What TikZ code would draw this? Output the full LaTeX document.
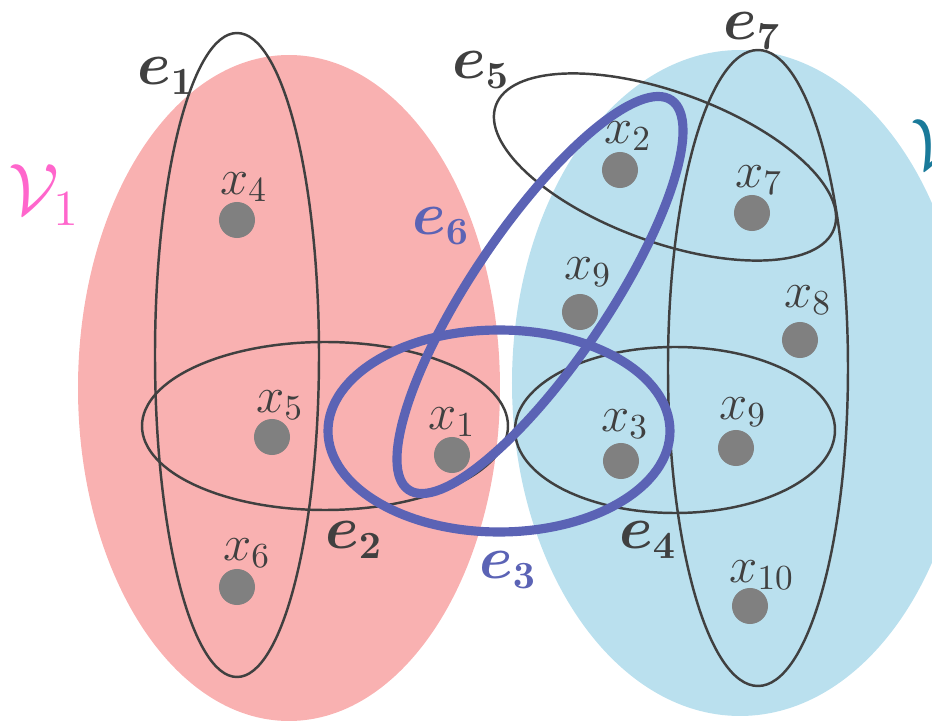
\documentclass[tikz,border=0pt]{standalone}
\usepackage{amsmath}
\usepackage{tikz}

\definecolor{partred}{HTML}{F9B1B1}
\definecolor{partblue}{HTML}{BAE0EE}
\definecolor{edgegray}{HTML}{404040}
\definecolor{heavyblue}{HTML}{5B63B5}
\definecolor{vmagenta}{HTML}{FF66CC}
\definecolor{vteal}{HTML}{1A7A9A}

\begin{document}
\begin{tikzpicture}[x=0.01cm, y=-0.01cm,
  vertex/.style={circle, fill=black!50, minimum size=0.36cm, inner sep=0pt},
  vlabel/.style={text=edgegray, font=\fontsize{14}{16}\selectfont, inner sep=0pt},
  hedge/.style={draw=edgegray, line width=0.7pt},
  heavy/.style={draw=heavyblue, line width=2.6pt},
  elabel/.style={font=\fontsize{16}{18}\selectfont, inner sep=0pt},
  part/.style={font=\fontsize{21}{24}\selectfont, inner sep=0pt}]

  \clip (0,0) rectangle (932,721);

  % Partitions
  \fill[partred] (289,388) ellipse (211 and 333);
  \fill[partblue] (740,383) ellipse (228 and 333);
  \node[part, text=vmagenta] (v1) at (44,195) {$\mathcal{V}_1$};
  \node[part, text=vteal, anchor=west] (v2) at (910,150) {$\mathcal{V}_2$};

  % Hyperedges
  \draw[hedge] (237,355) ellipse (82 and 322);
  \draw[hedge] (325,426) ellipse (183 and 84);
  \draw[hedge] (675,430) ellipse (160 and 83);
  \draw[hedge] (758,368) ellipse (90 and 318);
  \draw[hedge, rotate around={-20:(665,167)}] (665,167) ellipse (180 and 75);
  \draw[heavy] (499,431) ellipse (171 and 101);
  \draw[heavy, rotate around={56:(540,295)}] (540,295) ellipse (235 and 68);

  % Hyperedge labels
  \node[elabel, text=edgegray] (l1) at (166,76) {$\boldsymbol{e_1}$};
  \node[elabel, text=edgegray] (l2) at (354,540) {$\boldsymbol{e_2}$};
  \node[elabel, text=heavyblue] (l3) at (508,570) {$\boldsymbol{e_3}$};
  \node[elabel, text=edgegray] (l4) at (648,540) {$\boldsymbol{e_4}$};
  \node[elabel, text=edgegray] (l5) at (481,70) {$\boldsymbol{e_5}$};
  \node[elabel, text=heavyblue] (l6) at (441,226) {$\boldsymbol{e_6}$};
  \node[elabel, text=edgegray] (l7) at (752,31) {$\boldsymbol{e_7}$};

  % Vertices
  \node[vertex] (x4) at (237,220) {};
  \node[vertex] (x5) at (272,437) {};
  \node[vertex] (x6) at (237,587) {};
  \node[vertex] (x1) at (452,455) {};
  \node[vertex] (x2) at (620,170) {};
  \node[vertex] (x7) at (752,213) {};
  \node[vertex] (x9a) at (580,312) {};
  \node[vertex] (x8) at (800,340) {};
  \node[vertex] (x3) at (621,461) {};
  \node[vertex] (x9b) at (736,448) {};
  \node[vertex] (x10) at (750,606) {};

  % Vertex labels
  \node[vlabel] at (244,187) {$x_4$};
  \node[vlabel] at (280,405) {$x_5$};
  \node[vlabel] at (247,553) {$x_6$};
  \node[vlabel] at (452,422) {$x_1$};
  \node[vlabel] at (628,136) {$x_2$};
  \node[vlabel] at (759,180) {$x_7$};
  \node[vlabel] at (588,272) {$x_9$};
  \node[vlabel] at (808,300) {$x_8$};
  \node[vlabel] at (625,424) {$x_3$};
  \node[vlabel] at (743,412) {$x_9$};
  \node[vlabel] at (762,575) {$x_{10}$};
\end{tikzpicture}
\end{document}
